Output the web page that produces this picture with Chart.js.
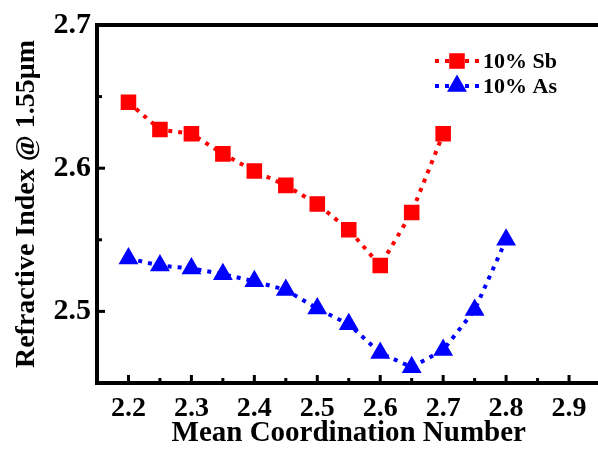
<!DOCTYPE html>
<html>
<head>
<meta charset="utf-8">
<script src="https://cdn.jsdelivr.net/npm/chart.js@4.4.1/dist/chart.umd.min.js"></script>
<style>
html,body{margin:0;padding:0;background:#fff;overflow:hidden;width:598px;height:455px;}
#wrap{position:absolute;left:0;top:0;width:612px;height:455px;}
</style>
</head>
<body>
<div id="wrap"><canvas id="c" width="612" height="455"></canvas></div>
<script>
// ---- data ----
const coordSb = [2.2, 2.25, 2.3, 2.35, 2.4, 2.45, 2.5, 2.55, 2.6, 2.65, 2.7];
const indexSb = [2.646, 2.627, 2.624, 2.610, 2.598, 2.588, 2.575, 2.557, 2.532, 2.569, 2.624];
const coordAs = [2.2, 2.25, 2.3, 2.35, 2.4, 2.45, 2.5, 2.55, 2.6, 2.65, 2.7, 2.75, 2.8];
const indexAs = [2.537, 2.532, 2.530, 2.526, 2.521, 2.515, 2.502, 2.491, 2.471, 2.461, 2.473, 2.501, 2.550];
const xTicks = [2.2, 2.3, 2.4, 2.5, 2.6, 2.7, 2.8, 2.9];
const xMinorTicks = [2.25, 2.35, 2.45, 2.55, 2.65, 2.75, 2.85];
const yTicks = [2.5, 2.6, 2.7];
const yMinorTicks = [2.55, 2.65];
const seriesNames = ['10% Sb', '10% As'];

const FONT = "'Liberation Serif','Times New Roman',serif";

const toPts = (xs, ys) => xs.map((x, i) => ({x: x, y: ys[i]}));

const frameTicks = {
  id: 'frameTicks',
  afterDatasetsDraw(chart) {
    const {ctx, chartArea: a, scales: {x, y}} = chart;
    ctx.save();
    ctx.strokeStyle = '#000';
    ctx.lineCap = 'butt';
    // top and right frame lines
    ctx.lineWidth = 4;
    ctx.beginPath(); ctx.moveTo(a.left - 2, a.top); ctx.lineTo(a.right + 2, a.top); ctx.stroke();
    ctx.beginPath(); ctx.moveTo(a.right, a.top); ctx.lineTo(a.right, a.bottom); ctx.stroke();
    ctx.lineWidth = 3;
    const tick = (px, len, vertical) => {
      ctx.beginPath();
      if (vertical) { ctx.moveTo(px, a.bottom); ctx.lineTo(px, a.bottom - len); }
      else { ctx.moveTo(a.left, px); ctx.lineTo(a.left + len, px); }
      ctx.stroke();
    };
    xTicks.forEach(v => tick(x.getPixelForValue(v), 8, true));
    xMinorTicks.forEach(v => tick(x.getPixelForValue(v), 5, true));
    yTicks.forEach(v => tick(y.getPixelForValue(v), 8, false));
    yMinorTicks.forEach(v => tick(y.getPixelForValue(v), 5, false));
    // legend
    const lx = a.left + 338, ly0 = a.top + 36, dy = 25;
    chart.data.datasets.forEach((ds, i) => {
      const ly = ly0 + i * dy;
      ctx.save();
      ctx.strokeStyle = ds.borderColor;
      ctx.lineWidth = ds.borderWidth;
      ctx.setLineDash(ds.borderDash);
      ctx.beginPath(); ctx.moveTo(lx, ly); ctx.lineTo(lx + 44, ly); ctx.stroke();
      ctx.restore();
      ctx.save();
      ctx.fillStyle = ds.pointBackgroundColor;
      ctx.strokeStyle = ds.pointBorderColor;
      ctx.lineWidth = 0;
      Chart.helpers.drawPoint(ctx, {pointStyle: ds.pointStyle, radius: ds.pointRadius, rotation: 0, borderWidth: 0}, lx + 22, ly);
      ctx.restore();
      ctx.fillStyle = '#000';
      ctx.font = "bold 22px " + FONT;
      ctx.textBaseline = 'middle';
      ctx.textAlign = 'left';
      ctx.fillText(ds.label, lx + 48, ly + 1);
    });
    ctx.restore();
  }
};

new Chart(document.getElementById('c'), {
  type: 'scatter',
  data: {
    datasets: [
      {
        label: seriesNames[0],
        data: toPts(coordSb, indexSb),
        showLine: true,
        borderColor: '#ff0000',
        backgroundColor: '#ff0000',
        pointBackgroundColor: '#ff0000',
        pointBorderColor: '#ff0000',
        borderWidth: 4,
        borderDash: [4, 6],
        pointStyle: 'rect',
        pointRadius: 11,
        pointBorderWidth: 0
      },
      {
        label: seriesNames[1],
        data: toPts(coordAs, indexAs),
        showLine: true,
        borderColor: '#0000ff',
        backgroundColor: '#0000ff',
        pointBackgroundColor: '#0000ff',
        pointBorderColor: '#0000ff',
        borderWidth: 4,
        borderDash: [4, 6],
        pointStyle: 'triangle',
        pointRadius: 11.5,
        pointBorderWidth: 0
      }
    ]
  },
  options: {
    responsive: false,
    animation: false,
    events: [],
    layout: {padding: {top: 25, right: 8, left: 0, bottom: 0}},
    plugins: {legend: {display: false}, tooltip: {enabled: false}},
    scales: {
      x: {
        type: 'linear', min: 2.15, max: 2.95,
        afterBuildTicks: s => { s.ticks = xTicks.map(v => ({value: v})); },
        afterFit: s => { s.height = 72; },
        grid: {display: true, drawOnChartArea: false, drawTicks: false},
        border: {display: true, color: '#000', width: 4},
        ticks: {color: '#000', padding: 9, font: {family: FONT, size: 28, weight: 'bold'}, maxRotation: 0,
                callback: v => v.toFixed(1)},
        title: {display: true, text: 'Mean Coordination Number', color: '#000',
                font: {family: FONT, size: 29, weight: 'bold'}, padding: {top: 0, bottom: 4}}
      },
      y: {
        type: 'linear', min: 2.45, max: 2.7,
        afterBuildTicks: s => { s.ticks = yTicks.map(v => ({value: v})); },
        afterFit: s => { s.width = 97; },
        grid: {display: true, drawOnChartArea: false, drawTicks: false},
        border: {display: true, color: '#000', width: 4},
        ticks: {color: '#000', padding: 6, font: {family: FONT, size: 30, weight: 'bold'},
                callback: v => v.toFixed(1)},
        title: {display: true, text: 'Refractive Index @ 1.55\u03bcm', color: '#000',
                font: {family: FONT, size: 28, weight: 'bold'}, padding: {top: 10, bottom: 0}}
      }
    }
  },
  plugins: [frameTicks]
});
</script>
</body>
</html>
